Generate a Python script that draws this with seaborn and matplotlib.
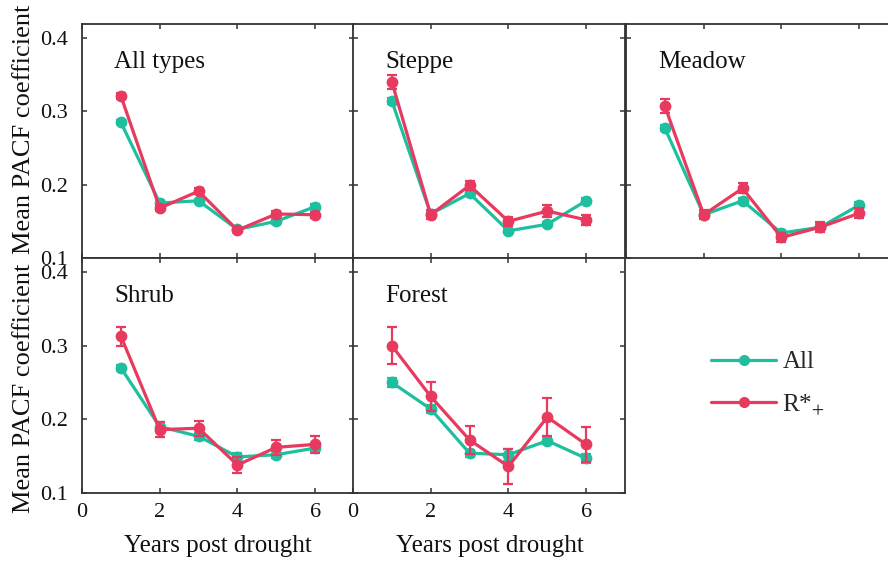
import matplotlib
matplotlib.use("Agg")
import matplotlib.pyplot as plt
from matplotlib.lines import Line2D
import numpy as np
import pandas as pd
import seaborn as sns

# ---- data -------------------------------------------------------------
years = [1, 2, 3, 4, 5, 6]
panel_names = ["All types", "Steppe", "Meadow", "Shrub", "Forest"]
series_names = ["All", "R*+"]

all_types_all = [0.285, 0.175, 0.178, 0.139, 0.150, 0.170]
all_types_all_err = [0.003, 0.003, 0.003, 0.003, 0.003, 0.003]
all_types_r = [0.321, 0.168, 0.191, 0.138, 0.160, 0.159]
all_types_r_err = [0.004, 0.004, 0.004, 0.003, 0.004, 0.004]

steppe_all = [0.314, 0.160, 0.188, 0.137, 0.146, 0.178]
steppe_all_err = [0.004, 0.003, 0.003, 0.003, 0.003, 0.004]
steppe_r = [0.340, 0.159, 0.199, 0.150, 0.164, 0.152]
steppe_r_err = [0.010, 0.006, 0.006, 0.006, 0.008, 0.007]

meadow_all = [0.277, 0.159, 0.178, 0.134, 0.142, 0.172]
meadow_all_err = [0.004, 0.004, 0.004, 0.004, 0.004, 0.004]
meadow_r = [0.307, 0.159, 0.195, 0.128, 0.142, 0.161]
meadow_r_err = [0.010, 0.006, 0.007, 0.006, 0.007, 0.007]

shrub_all = [0.270, 0.190, 0.177, 0.149, 0.152, 0.161]
shrub_all_err = [0.004, 0.006, 0.005, 0.005, 0.005, 0.006]
shrub_r = [0.313, 0.186, 0.188, 0.138, 0.162, 0.166]
shrub_r_err = [0.013, 0.010, 0.010, 0.011, 0.010, 0.012]

forest_all = [0.250, 0.214, 0.154, 0.152, 0.171, 0.147]
forest_all_err = [0.006, 0.005, 0.005, 0.008, 0.005, 0.006]
forest_r = [0.300, 0.231, 0.172, 0.136, 0.203, 0.166]
forest_r_err = [0.025, 0.020, 0.019, 0.024, 0.026, 0.024]

y_ticks = [0.1, 0.2, 0.3, 0.4]
x_ticks = [0, 2, 4, 6]
y_label = "Mean PACF coefficient"
x_label = "Years post drought"

panel_values = {
    "All types": (all_types_all, all_types_all_err, all_types_r, all_types_r_err),
    "Steppe": (steppe_all, steppe_all_err, steppe_r, steppe_r_err),
    "Meadow": (meadow_all, meadow_all_err, meadow_r, meadow_r_err),
    "Shrub": (shrub_all, shrub_all_err, shrub_r, shrub_r_err),
    "Forest": (forest_all, forest_all_err, forest_r, forest_r_err),
}

rows = []
for name, (a, ae, r, re) in panel_values.items():
    for i, yr in enumerate(years):
        rows.append((name, "All", yr, a[i], ae[i]))
        rows.append((name, "R*+", yr, r[i], re[i]))
df = pd.DataFrame(rows, columns=["panel", "series", "year", "value", "err"])

# ---- style ------------------------------------------------------------
sns.set_style("ticks")
plt.rcParams["font.family"] = ["Liberation Serif", "DejaVu Serif"]
plt.rcParams["mathtext.fontset"] = "stix"

colors = {"All": "#1dbf9f", "R*+": "#e83a5f"}
edge = "#333333"
ink = "#111111"

fig = plt.figure(figsize=(8.88, 5.63), dpi=100)
W, H = 888.0, 563.0

col_left = [82, 353, 626]
panel_w = 272
row_top = [24, 258]
row_bottom = [258, 493]

layout = {
    "All types": (0, 0), "Steppe": (0, 1), "Meadow": (0, 2),
    "Shrub": (1, 0), "Forest": (1, 1),
}

for name in panel_names:
    r, c = layout[name]
    left = col_left[c] / W
    bottom = 1 - row_bottom[r] / H
    height = (row_bottom[r] - row_top[r]) / H
    ax = fig.add_axes([left, bottom, panel_w / W, height])
    sub = df[df["panel"] == name]

    for s in series_names:
        d = sub[sub["series"] == s]
        ax.errorbar(d["year"], d["value"], yerr=d["err"], fmt="none",
                    ecolor=colors[s], elinewidth=1.6, capsize=3.5,
                    capthick=1.6, zorder=2 if s == "All" else 4)
        sns.lineplot(data=d, x="year", y="value", color=colors[s],
                     marker="o", markersize=8.5, markeredgewidth=0,
                     linewidth=2.3, ax=ax, legend=False,
                     zorder=3 if s == "All" else 5)

    ax.set_xlim(0, 7)
    ax.set_ylim(0.1, 0.419)
    ax.set_xticks(x_ticks)
    ax.set_yticks(y_ticks)
    ax.tick_params(direction="in", top=True, right=True, length=3.5,
                   width=1.1, color=edge, labelsize=16, pad=7,
                   labelcolor=ink)
    ax.tick_params(axis="y", pad=10)
    for sp in ax.spines.values():
        sp.set_linewidth(1.3)
        sp.set_color(edge)

    ax.text(0.118, 0.885, name, transform=ax.transAxes, fontsize=18,
            ha="left", va="top", color=ink)

    ax.set_xlabel("")
    ax.set_ylabel("")
    if c == 0:
        ax.yaxis.set_major_formatter(plt.FormatStrFormatter("%.1f"))
    else:
        ax.set_yticklabels([])
    if r == 0:
        ax.set_xticklabels([])

# row and column axis titles
for yc in (129, 388):
    fig.text(24 / W, 1 - yc / H, y_label, rotation=90, fontsize=19,
             ha="center", va="center", color=ink)
for xc in (217.5, 489.5):
    fig.text(xc / W, 1 - 546 / H, x_label, fontsize=18,
             ha="center", va="center", color=ink)

handles = [
    Line2D([], [], color=colors["All"], marker="o", markersize=8,
           markeredgewidth=0, linewidth=2.3),
    Line2D([], [], color=colors["R*+"], marker="o", markersize=8,
           markeredgewidth=0, linewidth=2.3),
]
fig.legend(handles, ["All", "R*$_{+}$"], loc="center left",
           bbox_to_anchor=(711 / W, 1 - 384 / H), frameon=False,
           fontsize=18, handlelength=2.6, handletextpad=0.25,
           labelspacing=0.75, borderpad=0, borderaxespad=0)

fig.savefig("out.png", dpi=100, facecolor="white")
